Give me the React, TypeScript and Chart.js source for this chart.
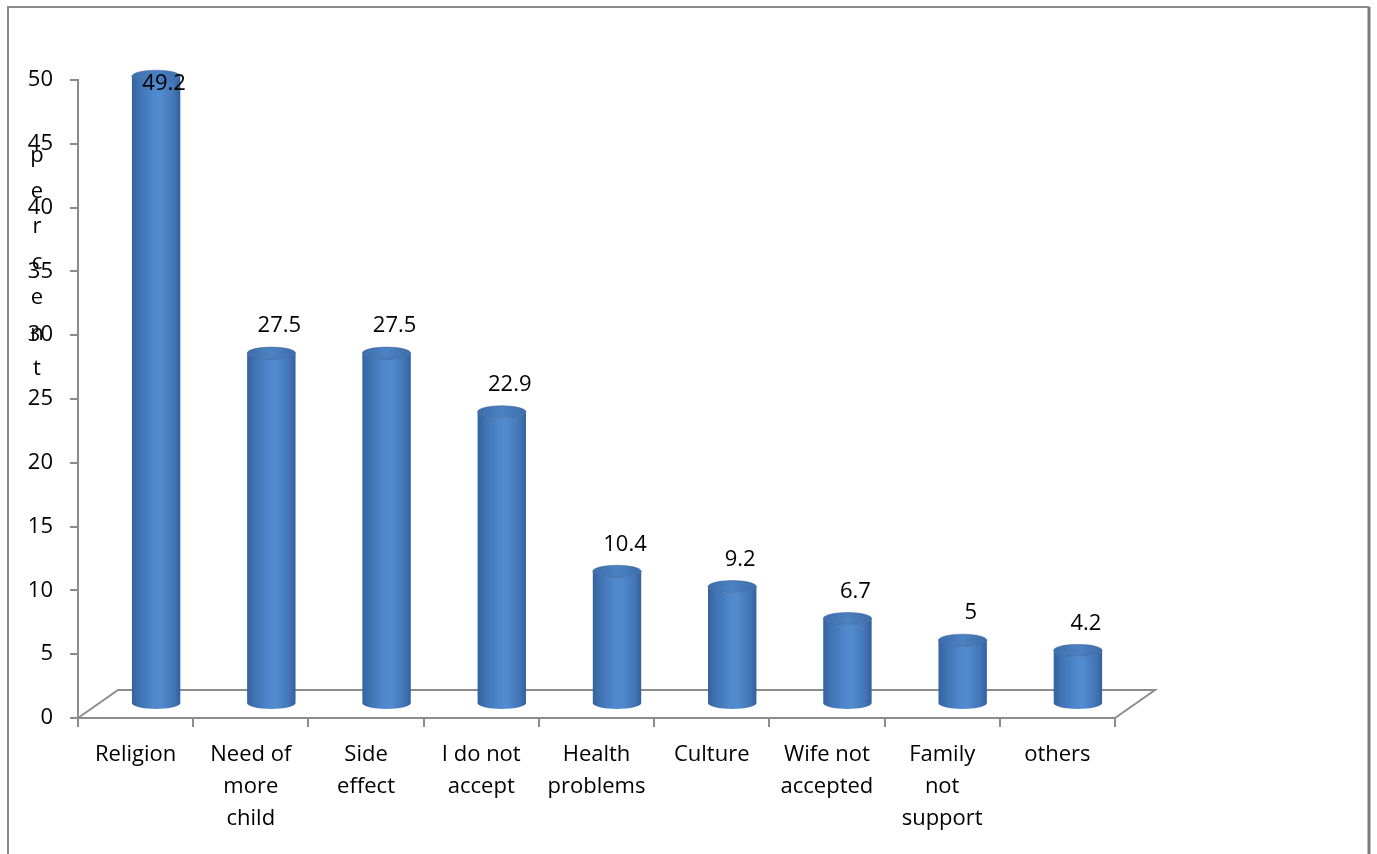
import React, { useEffect, useRef } from "react";
import { Chart, registerables } from "chart.js";

Chart.register(...registerables);

// Reasons for not using family planning (percent of respondents)
const categories: (string | string[])[] = [
  "Religion",
  ["Need of", "more", "child"],
  ["Side", "effect"],
  ["I do not", "accept"],
  ["Health", "problems"],
  "Culture",
  ["Wife not", "accepted"],
  ["Family", "not", "support"],
  "others",
];
const values: number[] = [49.2, 27.5, 27.5, 22.9, 10.4, 9.2, 6.7, 5, 4.2];
const yMin = 0;
const yMax = 50;
const yStep = 5;
const yTitle = "percent";

const FONT = "'Open Sans', 'Noto Sans', sans-serif";
const AXIS_GREY = "#8c8c8c";
const DEPTH_X = 40;
const DEPTH_Y = 28;

// Outer frame of the chart box
const framePlugin = {
  id: "frame",
  beforeDraw(chart: any) {
    const { ctx } = chart;
    ctx.save();
    ctx.strokeStyle = "#8a8a8a";
    ctx.lineWidth = 2;
    ctx.beginPath();
    ctx.moveTo(8, 860);
    ctx.lineTo(8, 7);
    ctx.lineTo(1369, 7);
    ctx.stroke();
    ctx.strokeStyle = "#7a7a7a";
    ctx.lineWidth = 3;
    ctx.beginPath();
    ctx.moveTo(1369, 7);
    ctx.lineTo(1369, 860);
    ctx.stroke();
    ctx.restore();
  },
};

// 3-D floor under the columns, plus the stacked-letter axis title
const floorPlugin = {
  id: "floor",
  beforeDatasetsDraw(chart: any) {
    const { ctx, chartArea } = chart;
    const l = chartArea.left;
    const r = chartArea.right;
    const b = chartArea.bottom;
    ctx.save();
    ctx.strokeStyle = AXIS_GREY;
    ctx.lineWidth = 2;
    ctx.beginPath();
    ctx.moveTo(l, b);
    ctx.lineTo(l + DEPTH_X, b - DEPTH_Y);
    ctx.lineTo(r + DEPTH_X, b - DEPTH_Y);
    ctx.lineTo(r, b);
    ctx.stroke();

    ctx.fillStyle = "#000";
    ctx.font = `22px ${FONT}`;
    ctx.textAlign = "center";
    ctx.textBaseline = "middle";
    const letters = yTitle.split("");
    letters.forEach((ch, i) => {
      ctx.fillText(ch, 37, 156 + i * 35.5);
    });
    ctx.restore();
  },
};

// Columns drawn as shaded cylinders standing in the middle of the floor depth
const cylinderPlugin = {
  id: "cylinders",
  afterDatasetsDraw(chart: any) {
    const { ctx, chartArea } = chart;
    const meta = chart.getDatasetMeta(0);
    const ry = 6;
    ctx.save();
    meta.data.forEach((bar: any, i: number) => {
      const cx = bar.x + DEPTH_X / 2 + 0.5;
      const top = bar.y - DEPTH_Y / 2;
      const bot = bar.base - DEPTH_Y / 2;
      const rx = bar.width / 2;

      const body = ctx.createLinearGradient(cx - rx, 0, cx + rx, 0);
      body.addColorStop(0, "#33629f");
      body.addColorStop(0.15, "#3f72b3");
      body.addColorStop(0.45, "#4f88cc");
      body.addColorStop(0.6, "#528bcf");
      body.addColorStop(0.88, "#4174b5");
      body.addColorStop(1, "#31609c");

      ctx.beginPath();
      ctx.moveTo(cx - rx, top);
      ctx.lineTo(cx - rx, bot);
      ctx.ellipse(cx, bot, rx, ry, 0, Math.PI, 0, true);
      ctx.lineTo(cx + rx, top);
      ctx.ellipse(cx, top, rx, ry, 0, 0, Math.PI, false);
      ctx.closePath();
      ctx.fillStyle = body;
      ctx.fill();

      const cap = ctx.createLinearGradient(cx - rx, 0, cx + rx, 0);
      cap.addColorStop(0, "#3e6eab");
      cap.addColorStop(0.5, "#4c81c3");
      cap.addColorStop(1, "#3e6eab");
      ctx.beginPath();
      ctx.ellipse(cx, top, rx, ry, 0, 0, Math.PI * 2);
      ctx.fillStyle = cap;
      ctx.fill();
      ctx.strokeStyle = "rgba(45,85,140,0.5)";
      ctx.lineWidth = 1;
      ctx.stroke();

      // value label above the column
      ctx.fillStyle = "#000";
      ctx.font = `22px ${FONT}`;
      ctx.textAlign = "center";
      ctx.textBaseline = "middle";
      const ly = Math.max(top - 27, chartArea.top + 4);
      ctx.fillText(String(values[i]), cx + 8, ly);
    });
    ctx.restore();
  },
};

export default function App() {
  const canvasRef = useRef<HTMLCanvasElement | null>(null);

  useEffect(() => {
    if (!canvasRef.current) return;
    const chart = new Chart(canvasRef.current, {
      type: "bar",
      data: {
        labels: categories,
        datasets: [
          {
            data: values,
            backgroundColor: "rgba(0,0,0,0)",
            borderWidth: 0,
            categoryPercentage: 1,
            barPercentage: 0.42,
          },
        ],
      },
      options: {
        responsive: false,
        animation: false,
        events: [],
        layout: { padding: { top: 80, right: 262, bottom: 0, left: 0 } },
        plugins: {
          legend: { display: false },
          tooltip: { enabled: false },
        },
        scales: {
          x: {
            offset: true,
            grid: {
              offset: true,
              drawOnChartArea: false,
              drawTicks: true,
              tickLength: 9,
              color: AXIS_GREY,
              lineWidth: 2,
            },
            border: { display: true, color: AXIS_GREY, width: 2 },
            ticks: {
              color: "#000",
              font: { family: FONT, size: 22, lineHeight: 1.45 },
              padding: 12,
              maxRotation: 0,
              autoSkip: false,
            },
            afterFit(scale: any) {
              scale.height = 136;
            },
          },
          y: {
            min: yMin,
            max: yMax,
            grid: {
              drawOnChartArea: false,
              drawTicks: true,
              tickLength: 8,
              color: AXIS_GREY,
              lineWidth: 2,
            },
            border: { display: true, color: AXIS_GREY, width: 2 },
            ticks: {
              stepSize: yStep,
              color: "#000",
              font: { family: FONT, size: 22 },
              padding: 17,
            },
            afterFit(scale: any) {
              scale.width = 78;
            },
          },
        },
      },
      plugins: [framePlugin, floorPlugin, cylinderPlugin],
    });
    return () => chart.destroy();
  }, []);

  return (
    <div style={{ position: "fixed", left: 0, top: 0, width: 1377, height: 854, background: "#fff" }}>
      <canvas ref={canvasRef} width={1377} height={854} />
    </div>
  );
}
